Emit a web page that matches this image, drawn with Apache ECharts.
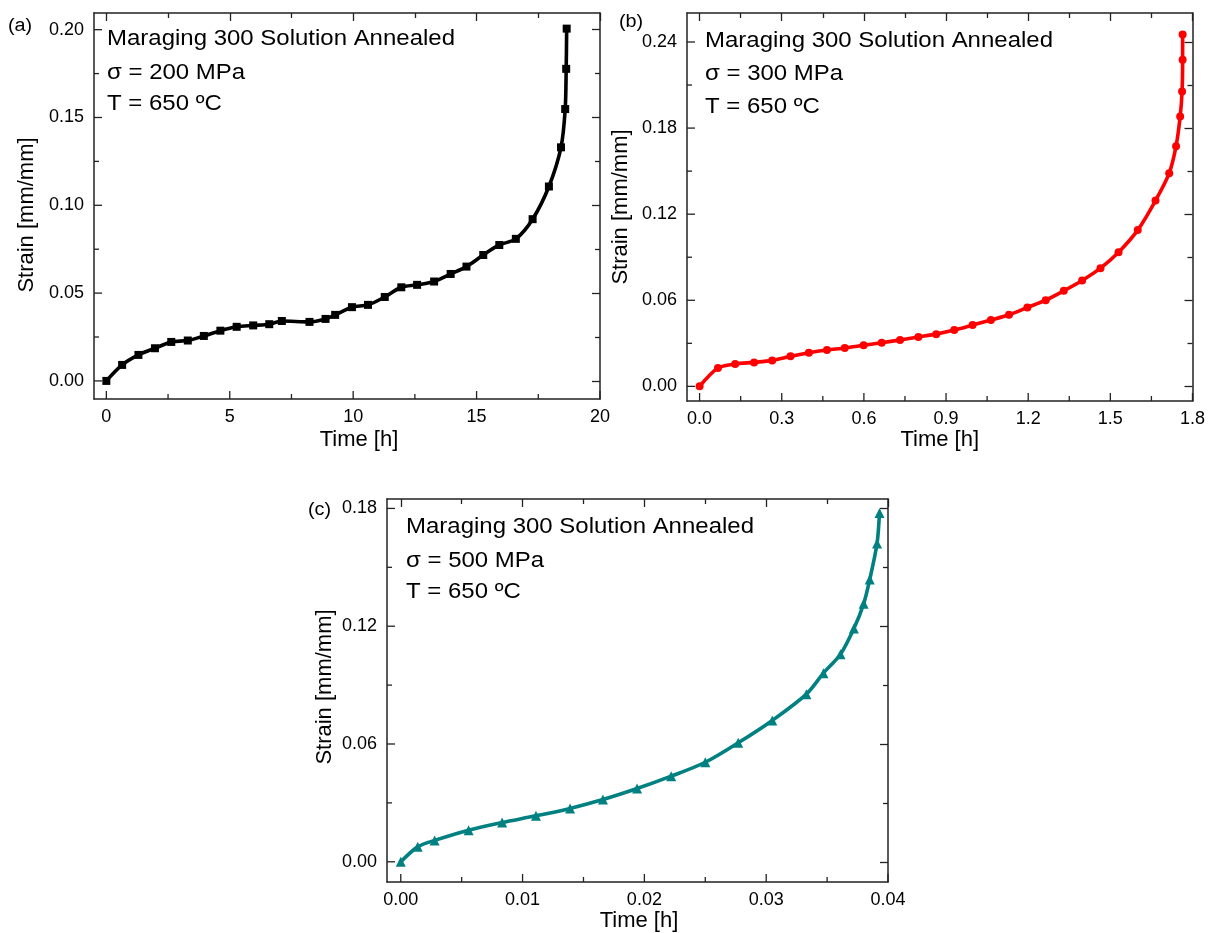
<!DOCTYPE html>
<html>
<head>
<meta charset="utf-8">
<script src="https://cdn.jsdelivr.net/npm/echarts@6/dist/echarts.min.js"></script>
<style>
html,body{margin:0;padding:0;background:#ffffff;}
#chart{width:1208px;height:933px;}
</style>
</head>
<body>
<div id="chart"></div>
<script>
// ---------- data ----------
const timeA = [0, 0.64, 1.3, 1.97, 2.63, 3.3, 3.95, 4.62, 5.28, 5.95, 6.6, 7.11, 8.23, 8.88, 9.27, 9.95, 10.6, 11.28, 11.95, 12.59, 13.28, 13.95, 14.59, 15.27, 15.92, 16.59, 17.27, 17.93, 18.42, 18.59, 18.63, 18.65];
const strainA = [0, 0.0091, 0.0148, 0.0186, 0.0222, 0.023, 0.0256, 0.0286, 0.0308, 0.0316, 0.0323, 0.0341, 0.0336, 0.0353, 0.0376, 0.042, 0.0433, 0.0478, 0.0533, 0.0547, 0.0566, 0.0609, 0.0651, 0.0717, 0.0774, 0.0809, 0.0921, 0.1107, 0.1330, 0.1548, 0.1777, 0.2006];

const timeB = [0, 0.067, 0.13, 0.199, 0.265, 0.332, 0.399, 0.465, 0.53, 0.599, 0.665, 0.732, 0.799, 0.864, 0.93, 0.997, 1.064, 1.13, 1.197, 1.264, 1.33, 1.397, 1.464, 1.53, 1.6, 1.665, 1.715, 1.74, 1.755, 1.762, 1.764, 1.764];
const strainB = [0, 0.0128, 0.0156, 0.0167, 0.0181, 0.0209, 0.0234, 0.0253, 0.0267, 0.0286, 0.0304, 0.0323, 0.0344, 0.0364, 0.0392, 0.0427, 0.0462, 0.0499, 0.055, 0.0601, 0.0666, 0.0738, 0.0824, 0.0935, 0.1089, 0.1295, 0.1486, 0.1674, 0.1881, 0.2055, 0.2276, 0.2452];

const timeC = [0, 0.00139, 0.00278, 0.00557, 0.00832, 0.0111, 0.0139, 0.0166, 0.0194, 0.0222, 0.025, 0.0277, 0.0305, 0.0333, 0.0347, 0.0361, 0.0372, 0.038, 0.0385, 0.0391, 0.0393];
const strainC = [0, 0.0076, 0.0109, 0.0161, 0.02, 0.0234, 0.0272, 0.0317, 0.0373, 0.0436, 0.0507, 0.0606, 0.072, 0.0854, 0.0961, 0.1057, 0.1188, 0.1314, 0.1438, 0.1621, 0.1777];

// tick labels / tick positions
const xTicksA = [0, 5, 10, 15, 20];
const xMinorA = [2.5, 7.5, 12.5, 17.5];
const yTicksA = [0, 0.05, 0.10, 0.15, 0.20];
const yMinorA = [0.025, 0.075, 0.125, 0.175];

const xTicksB = [0, 0.3, 0.6, 0.9, 1.2, 1.5, 1.8];
const xMinorB = [0.15, 0.45, 0.75, 1.05, 1.35, 1.65];
const yTicksB = [0, 0.06, 0.12, 0.18, 0.24];
const yMinorB = [0.03, 0.09, 0.15, 0.21];

const xTicksC = [0, 0.01, 0.02, 0.03, 0.04];
const xMinorC = [0.005, 0.015, 0.025, 0.035];
const yTicksC = [0, 0.06, 0.12, 0.18];
const yMinorC = [0.03, 0.09, 0.15];

const panelLabels = ['(a)', '(b)', '(c)'];
const titleLine = 'Maraging 300 Solution Annealed';
const stressLines = ['\u03c3 = 200 MPa', '\u03c3 = 300 MPa', '\u03c3 = 500 MPa'];
const tempLine = 'T = 650 \u00baC';
const xTitle = 'Time [h]';
const yTitle = 'Strain [mm/mm]';

// ---------- layout ----------
const FONT = '"Liberation Sans", Arial, Helvetica, sans-serif';
const AX = '#222';
const MAJOR_LEN = 8, MINOR_LEN = 5;

const grids = [
  {left: 94, top: 13, width: 506, height: 386},
  {left: 687, top: 13, width: 506, height: 388},
  {left: 387, top: 499, width: 501, height: 383}
];
const ranges = [
  {x: [-0.5, 20], y: [-0.0103, 0.2095], xd: 0, yd: 2},
  {x: [-0.046, 1.8], y: [-0.0102, 0.2602], xd: 1, yd: 2},
  {x: [-0.00113, 0.04], y: [-0.0103, 0.1848], xd: 2, yd: 2}
];
const ticks = [
  {xM: xTicksA, xm: xMinorA, yM: yTicksA, ym: yMinorA},
  {xM: xTicksB, xm: xMinorB, yM: yTicksB, ym: yMinorB},
  {xM: xTicksC, xm: xMinorC, yM: yTicksC, ym: yMinorC}
];
const nameCfg = [
  {xGap: 30, xPad: [0, 0, 0, 24], yGap: 56, yPad: [0, 18, 0, 0]},
  {xGap: 28, xPad: [0, 0, 0, 0], yGap: 55, yPad: [0, 0, 0, 0]},
  {xGap: 25, xPad: [0, 0, 0, 3], yGap: 51, yPad: [0, 0, 0, 7]}
];
const PER = 4;

function axisSet(dim, g) {
  const r = ranges[g], t = ticks[g], n = nameCfg[g];
  const isX = dim === 'x';
  const range = isX ? r.x : r.y;
  const major = isX ? t.xM : t.yM;
  const minor = isX ? t.xm : t.ym;
  const dec = isX ? r.xd : r.yd;
  const base = {
    type: 'value', gridIndex: g, min: range[0], max: range[1], offset: 0,
    splitLine: {show: false}, scale: false
  };
  const line = {show: true, onZero: false, lineStyle: {color: AX, width: 1.5}};
  const noLine = {show: false, onZero: false};
  const tickStyle = {color: AX, width: 1.3};
  const side1 = isX ? 'bottom' : 'left';
  const side2 = isX ? 'top' : 'right';
  const farTicks = (vals, len) => Object.assign({}, base, {
    position: side2,
    axisLine: noLine,
    axisTick: {show: true, inside: true, length: len, lineStyle: tickStyle, customValues: vals},
    axisLabel: {show: false}
  });
  const main = Object.assign({}, base, {
    position: side1,
    axisLine: line,
    axisTick: {show: false},
    axisLabel: {
      show: true, customValues: major, color: '#000', fontSize: 18, fontFamily: FONT,
      margin: isX ? 9 : 10,
      formatter: v => Number(v).toFixed(dec)
    },
    name: isX ? xTitle : yTitle,
    nameLocation: 'middle',
    nameGap: isX ? n.xGap : n.yGap,
    nameTextStyle: {color: '#000', fontSize: 22, fontFamily: FONT, padding: isX ? n.xPad : n.yPad}
  });
  const opp = Object.assign({}, base, {
    position: side2,
    axisLine: line,
    axisTick: {show: false},
    axisLabel: {show: false}
  });
  return [main, opp, farTicks(major, MAJOR_LEN), farTicks(minor, MINOR_LEN)];
}

const xAxes = [], yAxes = [];
for (let g = 0; g < 3; g++) {
  xAxes.push(...axisSet('x', g));
  yAxes.push(...axisSet('y', g));
}

function pairs(xs, ys) { return xs.map((x, i) => [x, ys[i]]); }

const seriesCfg = [
  {data: pairs(timeA, strainA), color: '#000000', symbol: 'rect', size: 8},
  {data: pairs(timeB, strainB), color: '#ff0000', symbol: 'circle', size: 8},
  {data: pairs(timeC, strainC), color: '#008080', symbol: 'triangle', size: 10}
];
const series = seriesCfg.map((s, g) => ({
  type: 'line', xAxisIndex: g * PER, yAxisIndex: g * PER,
  data: s.data, smooth: 0.3, symbol: s.symbol, symbolSize: s.size, showSymbol: true,
  lineStyle: {color: s.color, width: 3.6}, itemStyle: {color: s.color},
  clip: false, z: 5
}));

// annotation texts
const annot = [
  {x: 107, ys: [39, 73, 104], lx: 8, ly: 26},
  {x: 705, ys: [41, 74, 107], lx: 619, ly: 22},
  {x: 406, ys: [527, 561, 592], lx: 308, ly: 510}
];
const graphics = [];
annot.forEach((a, g) => {
  const lines = [titleLine, stressLines[g], tempLine];
  lines.forEach((txt, k) => {
    graphics.push({
      type: 'text', x: a.x, y: a.ys[k], scaleX: 1.09, z: 10,
      style: {text: txt, fill: '#000', font: '22px ' + FONT, align: 'left', verticalAlign: 'middle'}
    });
  });
  graphics.push({
    type: 'text', x: a.lx, y: a.ly, scaleX: 1.1, z: 10,
    style: {text: panelLabels[g], fill: '#000', font: '18px ' + FONT, align: 'left', verticalAlign: 'middle'}
  });
});

const chart = echarts.init(document.getElementById('chart'), null, {renderer: 'canvas'});
chart.setOption({
  animation: false,
  backgroundColor: '#ffffff',
  grid: grids.map(g => Object.assign({containLabel: false}, g)),
  xAxis: xAxes,
  yAxis: yAxes,
  series: series,
  graphic: graphics
});

// inward tick marks on the bottom and left frame edges, positioned through the axis scales
const tickGraphics = [];
for (let g = 0; g < 3; g++) {
  const r = ranges[g], t = ticks[g];
  const finder = {xAxisIndex: g * PER, yAxisIndex: g * PER};
  const addX = (v, len) => {
    const p = chart.convertToPixel(finder, [v, r.y[0]]);
    if (!p) return;
    tickGraphics.push({type: 'line', z: 20, silent: true,
      shape: {x1: p[0], y1: p[1], x2: p[0], y2: p[1] - len},
      style: {stroke: AX, lineWidth: 1.3}});
  };
  const addY = (v, len) => {
    const p = chart.convertToPixel(finder, [r.x[0], v]);
    if (!p) return;
    tickGraphics.push({type: 'line', z: 20, silent: true,
      shape: {x1: p[0], y1: p[1], x2: p[0] + len, y2: p[1]},
      style: {stroke: AX, lineWidth: 1.3}});
  };
  t.xM.forEach(v => addX(v, MAJOR_LEN));
  t.xm.forEach(v => addX(v, MINOR_LEN));
  t.yM.forEach(v => addY(v, MAJOR_LEN));
  t.ym.forEach(v => addY(v, MINOR_LEN));
}
chart.setOption({graphic: graphics.concat(tickGraphics)});
</script>
</body>
</html>
